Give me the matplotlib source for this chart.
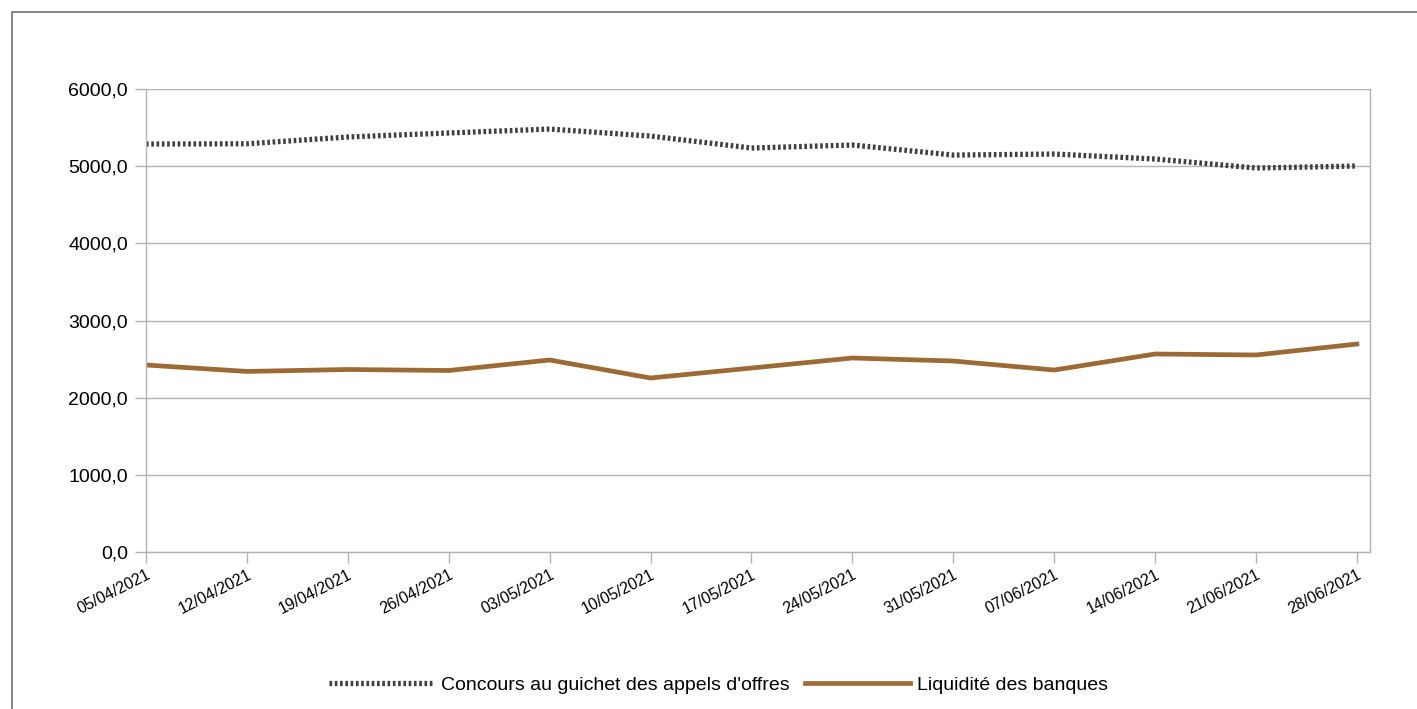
import matplotlib
matplotlib.use("Agg")
import matplotlib.pyplot as plt
from matplotlib.patches import Rectangle

# Data
dates = ["05/04/2021", "12/04/2021", "19/04/2021", "26/04/2021", "03/05/2021",
         "10/05/2021", "17/05/2021", "24/05/2021", "31/05/2021", "07/06/2021",
         "14/06/2021", "21/06/2021", "28/06/2021"]
concours = [5287, 5290, 5378, 5430, 5481, 5390, 5235, 5274, 5144, 5157, 5093, 4976, 5002]
liquidite = [2423, 2340, 2365, 2352, 2488, 2255, 2384, 2514, 2475, 2358, 2566, 2553, 2695]
yticks = [0, 1000, 2000, 3000, 4000, 5000, 6000]

plt.rcParams['font.family'] = ['Liberation Sans', 'DejaVu Sans']

fig = plt.figure(figsize=(14.17, 7.09), dpi=100)
ax = fig.add_axes([146 / 1417, 1 - 552 / 709, (1370 - 146) / 1417, (552 - 89) / 709])

# outer frame
fig.patches.append(Rectangle((12 / 1417, -0.1), 1.2, 1 - 12 / 709 + 0.1,
                             transform=fig.transFigure, fill=False,
                             edgecolor='#6e6e6e', linewidth=1.2))

x = list(range(len(dates)))
ax.plot(x, concours, color='#3f3f3f', linewidth=3.8, linestyle=(0, (0.5, 0.5)),
        label="Concours au guichet des appels d'offres", solid_capstyle='butt',
        dash_capstyle='butt')
ax.plot(x, liquidite, color='#9c6a34', linewidth=3.4, label="Liquidité des banques")

ax.set_xlim(0, 12.13)
ax.set_ylim(0, 6000)
ax.set_yticks(yticks)
ax.set_yticklabels([f"{v:.1f}".replace('.', ',') for v in yticks], fontsize=14)
ax.set_xticks(x)
ax.set_xticklabels(dates, rotation=27, ha='right', rotation_mode='anchor', fontsize=11.5)

ax.grid(axis='y', color='#b3b3b3', linewidth=1)
ax.set_axisbelow(True)
for side in ['left', 'bottom', 'right']:
    ax.spines[side].set_color('#b3b3b3')
    ax.spines[side].set_linewidth(1)
ax.spines['top'].set_visible(False)
ax.tick_params(axis='both', colors='#b3b3b3', labelcolor='black', length=8, width=1)
ax.tick_params(axis='x', pad=3)
ax.tick_params(axis='y', pad=5)

fig.legend(loc='center', bbox_to_anchor=(0.507, 1 - 685 / 709), ncol=2, frameon=False,
           fontsize=14, handlelength=5.4, columnspacing=0.75, handletextpad=0.38)

fig.savefig("out.png", dpi=100)
